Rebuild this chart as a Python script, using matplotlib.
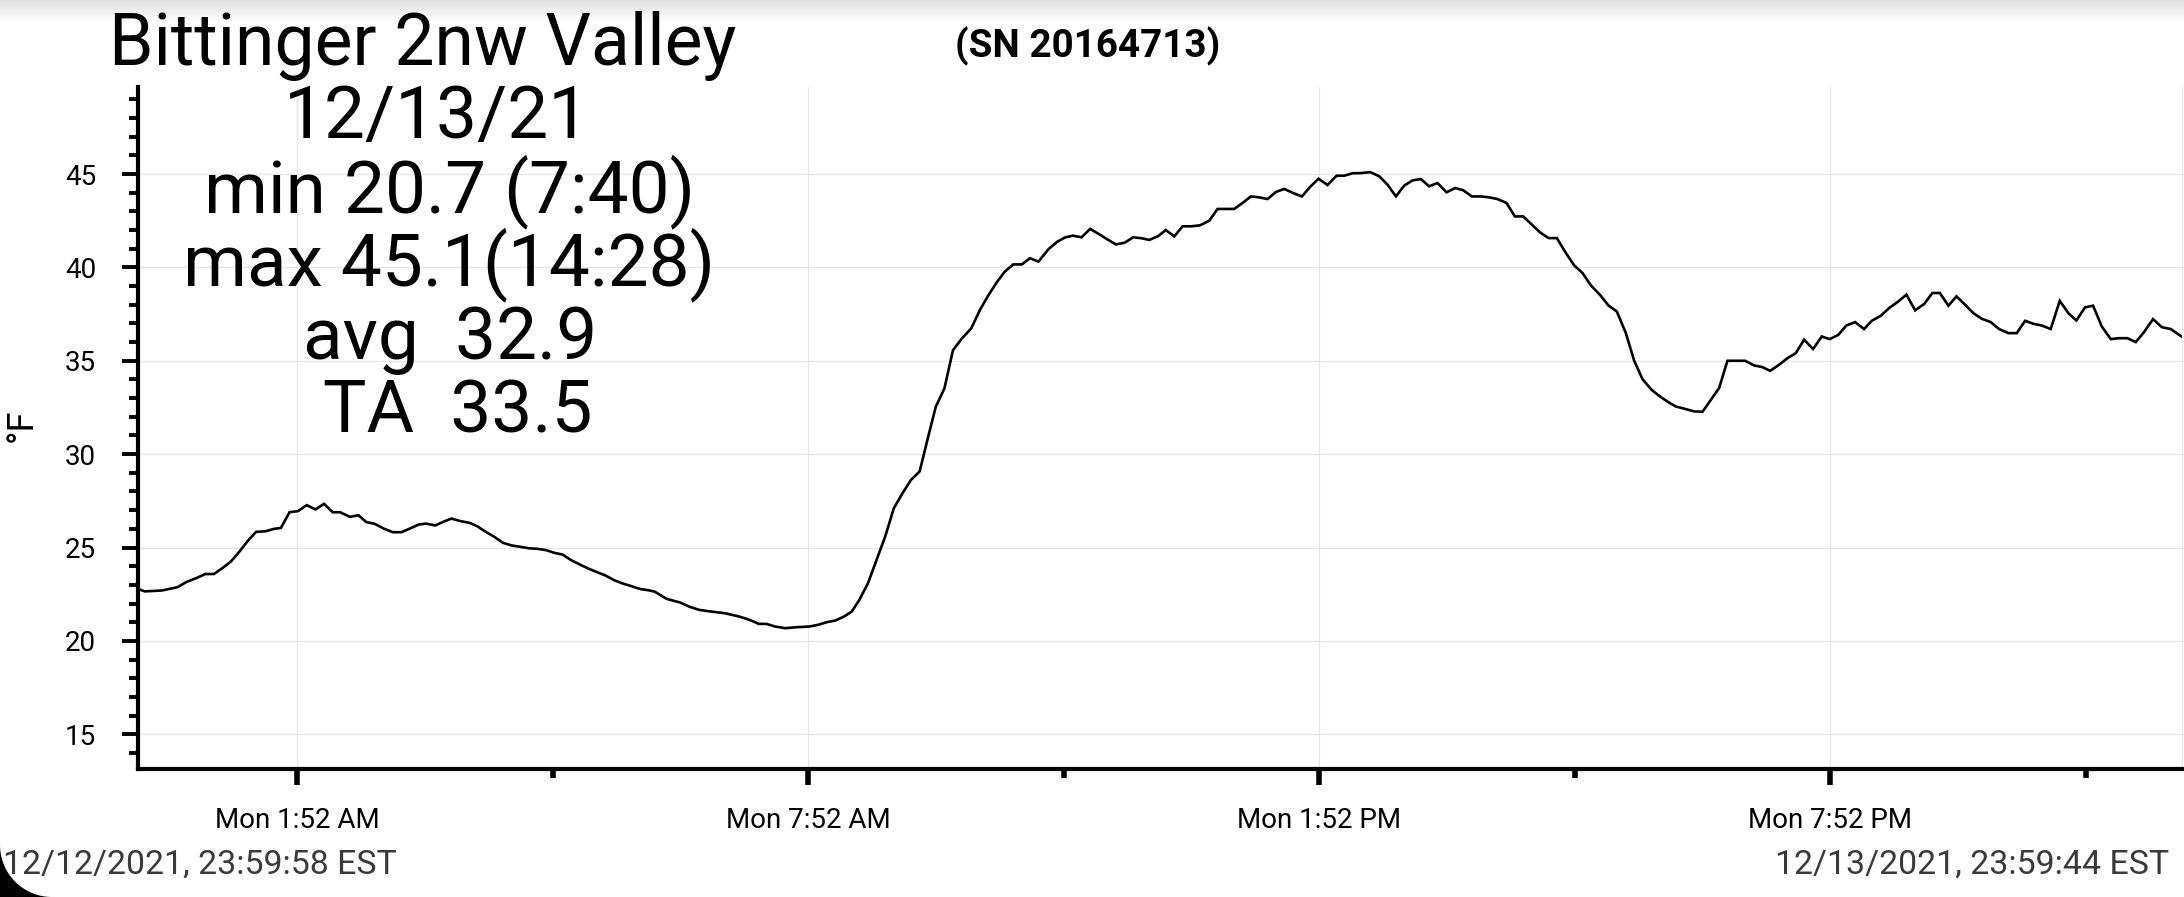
import datetime as dt
import numpy as np
import matplotlib
matplotlib.use("Agg")
import matplotlib.pyplot as plt
import matplotlib.dates as mdates
from matplotlib.ticker import FuncFormatter, FixedLocator, MultipleLocator
from matplotlib.patches import Polygon

plt.rcParams['font.family'] = ['Roboto', 'DejaVu Sans']

# Texts
station_name = "Bittinger 2nw Valley"
serial_label = "(SN 20164713)"
stats_lines = ["12/13/21", "min 20.7 (7:40)", "max 45.1(14:28)", "avg  32.9", "TA  33.5"]
start_label = "12/12/2021, 23:59:58 EST"
end_label = "12/13/2021, 23:59:44 EST"
y_label = "°F"

start_time = dt.datetime(2021, 12, 12, 23, 59, 58)
end_time = dt.datetime(2021, 12, 13, 23, 59, 44)

# Readings (hours after start, deg F)
hours_after_start = [
    0.0, 0.082, 0.284, 0.466, 0.567, 0.688, 0.790, 0.891, 0.992, 1.093, 1.194, 1.295,
    1.387, 1.497, 1.597, 1.678, 1.779, 1.880, 1.981, 2.083, 2.184, 2.285, 2.373, 2.487,
    2.588, 2.681, 2.778, 2.891, 2.992, 3.093, 3.194, 3.296, 3.384, 3.489, 3.586, 3.679,
    3.789, 3.893, 3.982, 4.083, 4.184, 4.285, 4.386, 4.487, 4.589, 4.690, 4.791, 4.892,
    4.985, 5.086, 5.187, 5.288, 5.389, 5.489, 5.590, 5.692, 5.793, 5.894, 5.995,
    6.065, 6.206, 6.368, 6.468, 6.589, 6.731, 6.893, 7.062, 7.176, 7.289, 7.378, 7.479,
    7.600, 7.721, 7.883, 7.984, 8.085, 8.186, 8.287, 8.380, 8.469, 8.570, 8.671, 8.772,
    8.873, 8.974, 9.075, 9.176, 9.277, 9.366, 9.467, 9.568, 9.674, 9.783, 9.884, 9.985,
    10.086, 10.175, 10.276, 10.377, 10.470, 10.571, 10.692, 10.794, 10.886, 10.976,
    11.077, 11.178, 11.279, 11.380, 11.481, 11.582, 11.683, 11.784, 11.873, 11.978, 12.066,
    12.166, 12.263, 12.362, 12.467, 12.576, 12.674, 12.772, 12.870, 12.967, 13.066,
    13.163, 13.261, 13.359, 13.457, 13.562, 13.664, 13.758, 13.859, 13.965, 14.071,
    14.161, 14.258, 14.357, 14.466, 14.572, 14.669, 14.768, 14.865, 14.963, 15.061,
    15.158, 15.256, 15.362, 15.464, 15.558, 15.659, 15.765, 15.863, 15.960, 16.066,
    16.164, 16.262, 16.364, 16.458, 16.559, 16.657, 16.763, 16.860, 16.958, 17.056,
    17.162, 17.263, 17.361, 17.467, 17.565, 17.662, 17.768, 17.866, 17.964,
    18.054, 18.132, 18.269, 18.367, 18.465, 18.562, 18.660, 18.867, 18.973, 19.071,
    19.161, 19.267, 19.364, 19.462, 19.560, 19.665, 19.767, 19.861, 19.962, 20.056,
    20.158, 20.264, 20.354, 20.460, 20.557, 20.667, 20.761, 20.863, 20.969, 21.066,
    21.153, 21.254, 21.348, 21.450, 21.547, 21.645, 21.751, 21.849, 21.958, 22.056,
    22.154, 22.251, 22.349, 22.455, 22.561, 22.662, 22.756, 22.858, 22.952, 23.054,
    23.160, 23.257, 23.355, 23.453, 23.551, 23.656, 23.759, 23.864, 23.99,
]
temps_f = [
    22.78, 22.65, 22.70, 22.88, 23.15, 23.37, 23.58, 23.58, 23.90, 24.26, 24.80, 25.39,
    25.84, 25.87, 26.0, 26.05, 26.89, 26.95, 27.27, 27.04, 27.34, 26.89, 26.89, 26.64,
    26.73, 26.36, 26.27, 26.0, 25.82, 25.82, 26.02, 26.23, 26.28, 26.18, 26.38, 26.55,
    26.41, 26.32, 26.14, 25.84, 25.57, 25.25, 25.11, 25.04, 24.96, 24.93, 24.86, 24.71,
    24.62, 24.32, 24.09, 23.87, 23.68, 23.50, 23.25, 23.07, 22.93, 22.78, 22.71,
    22.64, 22.25, 22.05, 21.84, 21.66, 21.57, 21.48, 21.30, 21.13, 20.91, 20.91, 20.77,
    20.68, 20.73, 20.77, 20.86, 21.0, 21.09, 21.30, 21.57, 22.2, 23.09, 24.34, 25.59,
    27.1, 27.9, 28.62, 29.07, 30.94, 32.54, 33.52, 35.57, 36.2, 36.74, 37.72, 38.52,
    39.23, 39.77, 40.16, 40.16, 40.49, 40.31, 40.99, 41.38, 41.61, 41.70,
    41.61, 42.06, 41.79, 41.5, 41.23, 41.32, 41.61, 41.56, 41.47, 41.68, 42.0,
    41.66, 42.2, 42.2, 42.25, 42.5, 43.13, 43.13, 43.13, 43.45, 43.8,
    43.75, 43.66, 44.04, 44.2, 43.98, 43.8, 44.3, 44.75, 44.41, 44.91,
    44.91, 45.04, 45.05, 45.1, 44.88, 44.43, 43.8, 44.38, 44.66, 44.73,
    44.34, 44.52, 44.02, 44.25, 44.13, 43.8, 43.8, 43.75, 43.66, 43.45,
    42.73, 42.73, 42.29, 41.88, 41.57, 41.57, 40.77, 40.11, 39.7, 39.04,
    38.54, 37.96, 37.64, 36.48, 35.0, 34.02, 33.45, 33.09, 32.79,
    32.55, 32.46, 32.29, 32.27, 32.91, 33.54, 35.0, 35.0, 34.75, 34.66,
    34.46, 34.79, 35.14, 35.41, 36.13, 35.63, 36.30, 36.16, 36.39, 36.89,
    37.07, 36.70, 37.14, 37.41, 37.82, 38.18, 38.54, 37.70, 38.04, 38.63,
    38.63, 37.95, 38.45, 38.0, 37.55, 37.25, 37.07, 36.70, 36.48, 36.48,
    37.14, 36.98, 36.89, 36.70, 38.21, 37.55, 37.16, 37.86, 37.95, 36.84,
    36.16, 36.21, 36.21, 36.0, 36.54, 37.23, 36.80, 36.70, 36.30,
]

major_tick_times = [dt.datetime(2021, 12, 13, h, 52) for h in (1, 7, 13, 19)]
minor_tick_times = [dt.datetime(2021, 12, 13, h, 52) for h in (4, 10, 16, 22)]
y_major_ticks = [15, 20, 25, 30, 35, 40, 45]
y_limits = (13.14, 49.66)

W, H = 2184, 897
fig = plt.figure(figsize=(W / 100, H / 100), dpi=100)
fig.patch.set_facecolor('white')

# faint grey shade along the top edge
shade_ax = fig.add_axes([0, 1 - 22 / H, 1, 22 / H], zorder=-5)
shade = np.linspace(0.80, 1.0, 64) ** 0.6
shade_ax.imshow(shade[:, None], cmap='gray', vmin=0, vmax=1, aspect='auto',
                extent=[0, 1, 0, 1], origin='upper')
shade_ax.axis('off')

ax = fig.add_axes([138 / W, (H - 769) / H, (2182 - 138) / W, (769 - 87) / H])

times = [start_time + dt.timedelta(hours=h) for h in hours_after_start]
ax.plot(times, temps_f, color='black', lw=1.9, solid_joinstyle='miter')

ax.set_xlim(start_time, end_time)
ax.set_ylim(*y_limits)

ax.xaxis.set_major_locator(FixedLocator(mdates.date2num(major_tick_times)))
ax.xaxis.set_minor_locator(FixedLocator(mdates.date2num(minor_tick_times)))


def time_label(x, pos):
    t = mdates.num2date(x)
    hour = t.hour % 12 or 12
    return f"{t:%a} {hour}:{t:%M} {'AM' if t.hour < 12 else 'PM'}"


ax.xaxis.set_major_formatter(FuncFormatter(time_label))
ax.yaxis.set_major_locator(FixedLocator(y_major_ticks))
ax.yaxis.set_minor_locator(MultipleLocator(1))

ax.grid(True, which='major', color='#e6e6e6', lw=0.9)
ax.set_axisbelow(True)

ax.spines['top'].set_visible(False)
ax.spines['right'].set_color('#e6e6e6')
ax.spines['right'].set_linewidth(0.9)
for side in ['left', 'bottom']:
    ax.spines[side].set_linewidth(3.0)
    ax.spines[side].set_capstyle('projecting')

ax.tick_params(axis='y', which='major', direction='out', length=11.5, width=2.8,
               pad=18.5, labelsize=20, colors='black')
ax.tick_params(axis='y', which='minor', direction='out', length=6.5, width=2.8)
ax.tick_params(axis='x', which='major', direction='out', length=11.5, width=4,
               pad=15.5, labelsize=20, colors='black')
ax.tick_params(axis='x', which='minor', direction='out', length=6.5, width=4)
ax.tick_params(right=False)

# header and statistics
fig.text(423 / W, 1 - 65 / H, station_name, ha='center', va='baseline', fontsize=51.5)
fig.text(955 / W, 1 - 57 / H, serial_label, ha='left', va='baseline',
         fontsize=27.8, fontweight='bold')
stat_centers = [437, 450, 449, 450, 458]
stat_baselines = [138, 212, 285, 358.5, 432]
for line, cx, by in zip(stats_lines, stat_centers, stat_baselines):
    fig.text(cx / W, 1 - by / H, line, ha='center', va='baseline', fontsize=52.5)

fig.text(22 / W, 1 - 425 / H, y_label, rotation=90, ha='center', va='center', fontsize=26)

fig.text(3 / W, 1 - 874 / H, start_label, ha='left', va='baseline', fontsize=24.4, color='#3a3a3a')
fig.text(2169 / W, 1 - 874 / H, end_label, ha='right', va='baseline', fontsize=24.4, color='#3a3a3a')

# rounded screen corner at the bottom left
R = 52
theta = np.linspace(np.pi, 1.5 * np.pi, 40)
corner = [(0, 0), (0, R)] + [(R + R * np.cos(a), R + R * np.sin(a)) for a in theta] + [(R, 0)]
corner = [(x / W, y / H) for x, y in corner]
fig.add_artist(Polygon(corner, closed=True, facecolor='black', edgecolor='none',
                       transform=fig.transFigure, zorder=10))

fig.savefig('out.png', dpi=100, facecolor='white')
